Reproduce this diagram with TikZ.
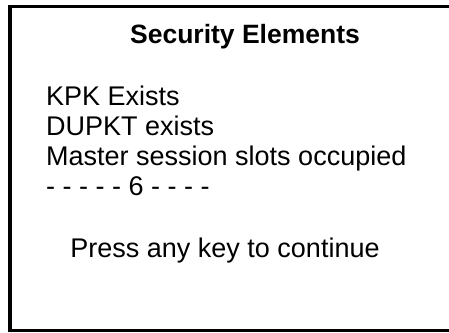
\documentclass[tikz,border=0pt]{standalone}
\usepackage{fontspec}
\setmainfont{Liberation Sans}
\begin{document}
\begin{tikzpicture}[x=1pt,y=-1pt,
  screentext/.style={anchor=base west,inner sep=0pt,font=\fontsize{27}{30}\selectfont}]
  \useasboundingbox (0,0) rectangle (449,332);
  % frame of the screen, right side cut off
  \draw [line width=3.6pt] (449,6.5) -- (10,6.5) -- (10,330.5) -- (449,330.5);
  \node [screentext,anchor=base,font=\fontsize{26.5}{30}\selectfont\bfseries] (title) at (245,43) {Security Elements};
  \foreach \t [count=\k] [evaluate=\k as \y using 75+30*\k] in {KPK Exists,DUPKT exists,Master session slots occupied,{- - - - - 6 - - - -}}
  {
    \node [screentext] (line\k) at (46,\y) {\t};
  }
  \node [screentext,anchor=base] (press) at (225,257) {Press any key to continue};
\end{tikzpicture}
\end{document}
